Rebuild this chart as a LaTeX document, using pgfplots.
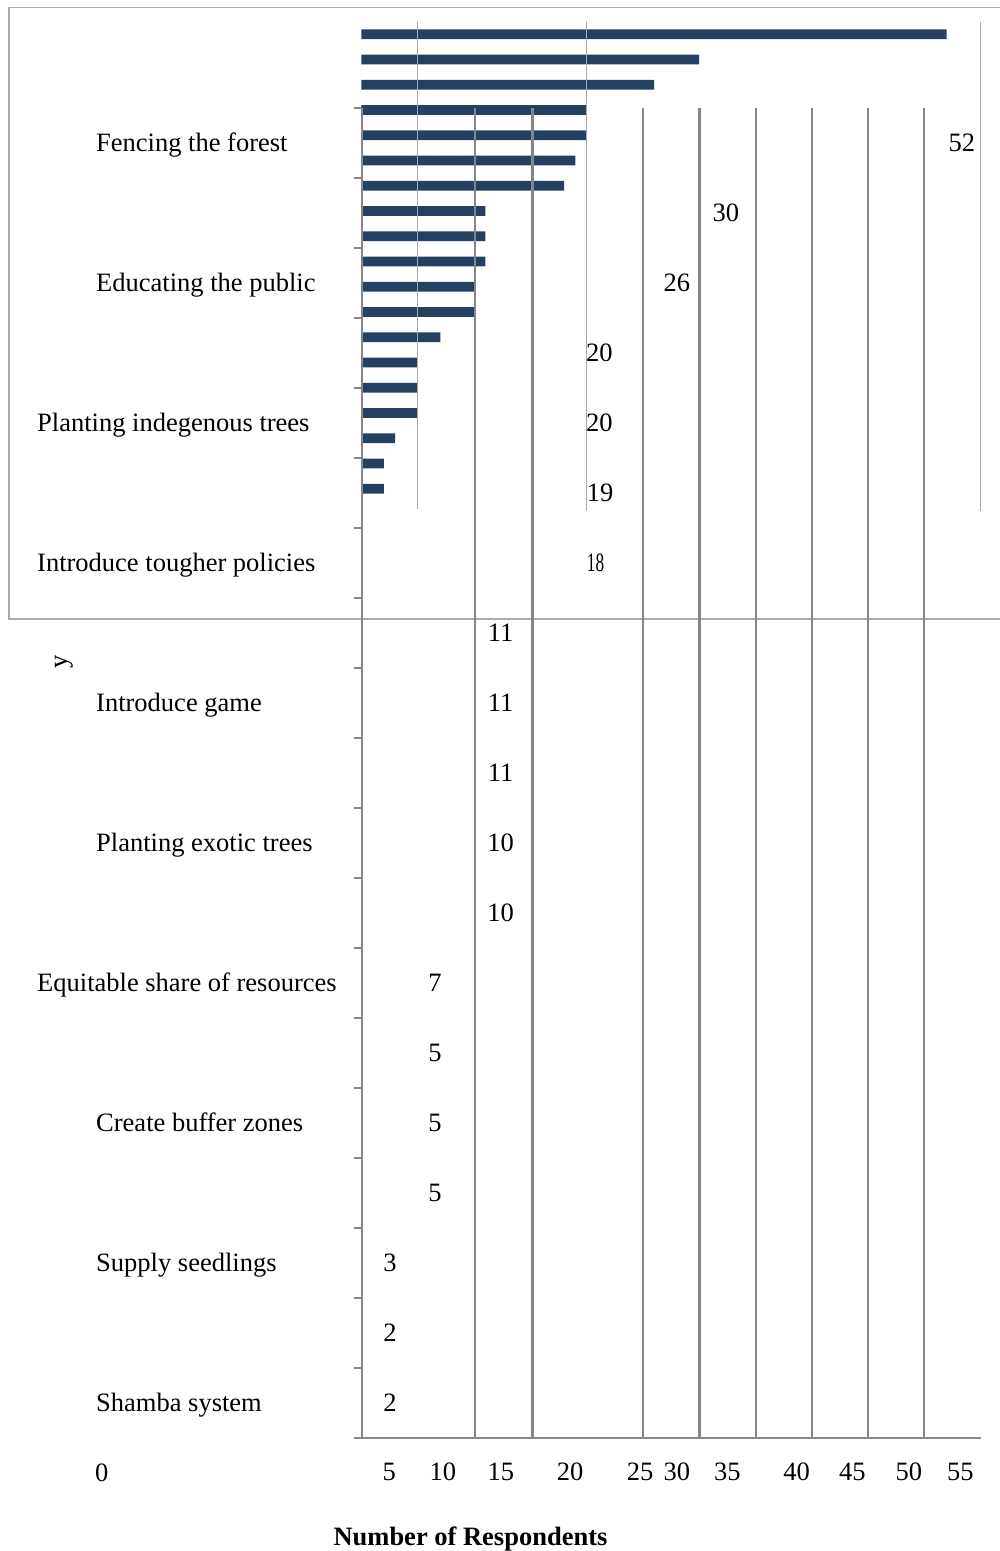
\documentclass[border=0pt]{standalone}
\usepackage{fontspec}
\setmainfont{Liberation Serif}
\usepackage{graphicx}
\usepackage{pgfplots}
\pgfplotsset{compat=1.18}
\definecolor{barblue}{RGB}{38,64,97}
\definecolor{gridgray}{RGB}{134,134,134}
\definecolor{boxgray}{RGB}{170,170,170}
\newcommand{\cnd}[1]{\scalebox{0.65}[1]{#1}}
\begin{document}
\fontsize{26.5}{31}\selectfont
\begin{tikzpicture}[x=1pt,y=1pt]
\useasboundingbox (0,0) rectangle (1000,1551);
% ---------- boxed bar panel ----------
\begin{axis}[
  at={(9pt,932pt)}, anchor=south west,
  scale only axis, width=996pt, height=611.5pt,
  xmin=-31.333, xmax=57.2,
  ymin=-1.057, ymax=23.160, y dir=reverse,
  xtick=\empty, ytick=\empty,
  axis line style={draw=boxgray, line width=1.5pt},
  clip=false,
]
\addplot[xbar, fill=barblue, draw=none, bar width=9.7pt] coordinates {
 (52,0) (30,1) (26,2) (20,3) (20,4) (19,5) (18,6) (11,7) (11,8) (11,9)
 (10,10) (10,11) (7,12) (5,13) (5,14) (5,15) (3,16) (2,17) (2,18)};
\addplot[boxgray, line width=1.5pt] coordinates {(5,-0.5) (5,18.8)};
\addplot[boxgray, line width=1.5pt] coordinates {(20,-0.5) (20,18.9)};
\addplot[boxgray, line width=1.5pt] coordinates {(55,-0.5) (55,18.9)};
\end{axis}
% ---------- main axis ----------
\begin{axis}[
  at={(362.3pt,112.7pt)}, anchor=south west,
  scale only axis, width=618.2pt, height=1330pt,
  xmin=0, xmax=55, ymin=-0.5, ymax=18.5, y dir=reverse,
  axis x line*=bottom, axis y line*=left,
  axis line style={-, draw=gridgray, line width=2.3pt},
  x axis line style={shorten <=-8pt},
  ytick={-0.5,0.5,...,18.5}, yticklabels={},
  tick align=outside, major tick length=8pt, minor tick length=0pt,
  y tick style={draw=gridgray, line width=2.3pt},
  xtick={2.39,7.16,12.32,18.48,24.71,27.99,32.49,38.65,43.61,48.62,53.20},
  xticklabels={5,10,15,20,25,30,35,40,45,50,55},
  x tick style={draw=none},
  xticklabel style={anchor=base, yshift=-34.6pt},
  minor xtick={10,15.15,25,30,35,40,45,50},
  xminorgrids,
  minor grid style={draw=gridgray, line width=2.3pt},
  xlabel={\textbf{Number of Respondents}},
  xlabel style={at={(axis description cs:0.175,-0.0806)}, anchor=base},
  ylabel={y},
  ylabel style={at={(axis description cs:-0.4825,0.5837)}, anchor=center},
  clip=false,
]
% category labels
\addplot[draw=none, nodes near coords, point meta=explicit symbolic,
  every node near coord/.append style={anchor=base west, inner sep=0pt, text=black}]
 coordinates {
 (-23.69,0.11)[Fencing the forest]
 (-23.69,2.11)[Educating the public]
 (-28.94,4.11)[Planting indegenous trees]
 (-28.94,6.11)[Introduce tougher policies]
 (-23.69,8.11)[Introduce game]
 (-23.69,10.11)[Planting exotic trees]
 (-28.94,12.11)[Equitable share of resources]
 (-23.69,14.11)[Create buffer zones]
 (-23.69,16.11)[Supply seedlings]
 (-23.69,18.11)[Shamba system]
 };
% value labels
\addplot[draw=none, nodes near coords, point meta=explicit symbolic,
  every node near coord/.append style={anchor=base, inner sep=0pt, text=black}]
 coordinates {
 (53.35,0.111)[52] (32.35,1.111)[30] (27.99,2.111)[26] (21.10,3.111)[20]
 (21.10,4.111)[20] (21.15,5.111)[19] (20.75,6.111)[\cnd{18}] (12.30,7.111)[11]
 (12.30,8.111)[11] (12.30,9.111)[11] (12.30,10.111)[10] (12.30,11.111)[10]
 (6.47,12.111)[7] (6.47,13.111)[5] (6.47,14.111)[5] (6.47,15.111)[5]
 (2.46,16.111)[3] (2.46,17.111)[2] (2.46,18.111)[2]
 };
% zero tick label left of the axis
\addplot[draw=none, nodes near coords, point meta=explicit symbolic,
  every node near coord/.append style={anchor=base, inner sep=0pt, text=black}]
 coordinates {(-23.18,19.12)[0]};
\end{axis}
\end{tikzpicture}
\end{document}
